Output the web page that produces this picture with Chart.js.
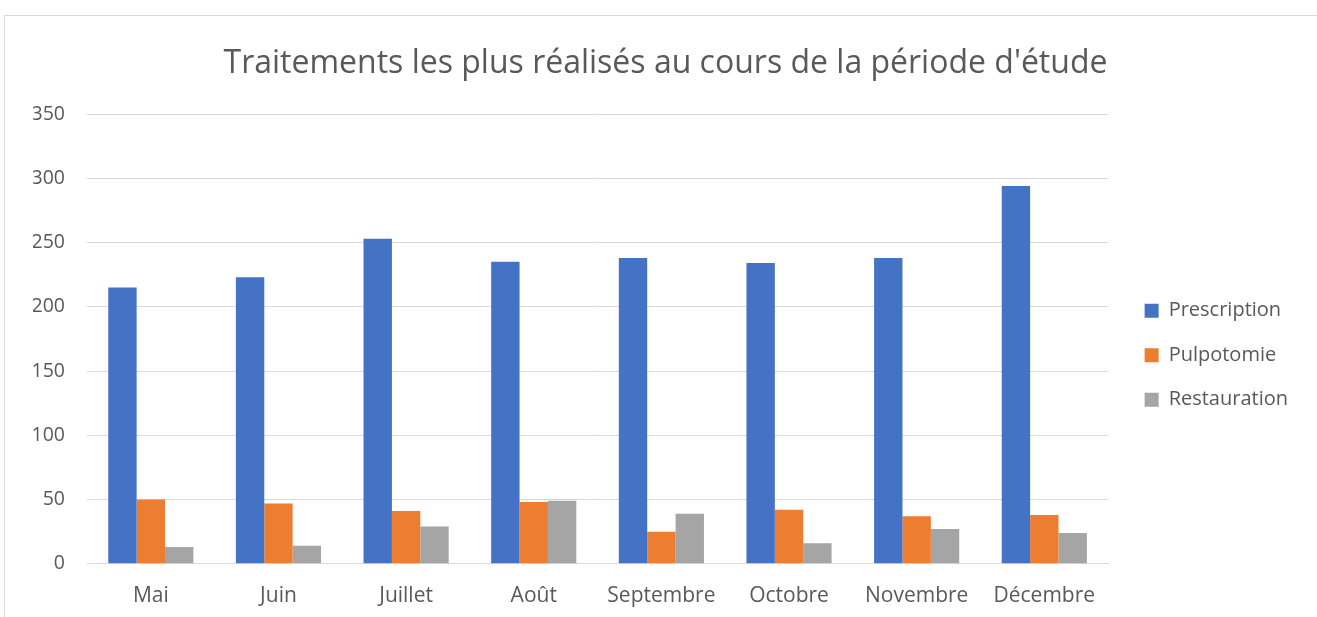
<!DOCTYPE html>
<html>
<head>
<meta charset="utf-8">
<script src="https://cdn.jsdelivr.net/npm/chart.js@4.4.1/dist/chart.umd.min.js"></script>
<style>
  html, body { margin: 0; padding: 0; background: #fff; overflow: hidden; }
  #frame {
    position: absolute; left: 4px; top: 15px;
    width: 1313px; height: 602px;
    border-top: 1px solid #d9d9d9; border-left: 1px solid #d9d9d9;
  }
</style>
</head>
<body>
<div id="frame"><canvas id="myChart" width="1312" height="601"></canvas></div>
<script>
const months = ["Mai", "Juin", "Juillet", "Août", "Septembre", "Octobre", "Novembre", "Décembre"];
const prescription = [215, 223, 253, 235, 238, 234, 238, 294];
const pulpotomie = [50, 47, 41, 48, 25, 42, 37, 38];
const restauration = [13, 14, 29, 49, 39, 16, 27, 24];
const yTicks = [0, 50, 100, 150, 200, 250, 300, 350];

const txt = "#595959";
const fontFam = "'Open Sans', Lato, sans-serif";

const ctx = document.getElementById("myChart");

new Chart(ctx, {
  type: "bar",
  data: {
    labels: months,
    datasets: [
      { label: "Prescription", data: prescription, backgroundColor: "#4472C4" },
      { label: "Pulpotomie", data: pulpotomie, backgroundColor: "#ED7D31" },
      { label: "Restauration", data: restauration, backgroundColor: "#A5A5A5" },
    ],
  },
  options: {
    responsive: false,
    animation: false,
    layout: { padding: { left: 28, right: 19, top: 20, bottom: -4 } },
    datasets: {
      bar: { categoryPercentage: 0.667, barPercentage: 1.0, borderWidth: 0 },
    },
    plugins: {
      title: {
        display: true,
        text: "Traitements les plus réalisés au cours de la période d'étude",
        color: txt,
        font: { family: fontFam, size: 32, weight: "normal" },
        padding: { top: 9, bottom: 30.6 },
      },
      legend: {
        position: "right",
        title: { display: true, text: " ", font: { size: 12 }, padding: { top: 0, bottom: 39 } },
        labels: {
          color: txt,
          font: { family: fontFam, size: 20 },
          boxWidth: 14,
          boxHeight: 14,
          padding: 24.5,
        },
      },
      tooltip: { enabled: false },
    },
    scales: {
      x: {
        grid: { display: false },
        border: { color: "#d9d9d9" },
        ticks: { color: txt, font: { family: fontFam, size: 21 }, padding: 12 },
      },
      y: {
        min: 0,
        max: 350,
        afterBuildTicks: (scale) => {
          scale.ticks = yTicks.map((v) => ({ value: v }));
        },
        afterFit: (scale) => {
          scale.width = 54;
        },
        grid: { color: "#d9d9d9", drawTicks: false },
        border: { display: false },
        ticks: { color: txt, font: { family: fontFam, size: 19.5 }, padding: 22 },
      },
      // empty spacer between plot and legend
      gap: {
        type: "linear",
        position: "right",
        grid: { display: false },
        border: { display: false },
        ticks: { display: false },
        afterFit: (scale) => {
          scale.width = 12;
        },
      },
    },
  },
});
</script>
</body>
</html>
